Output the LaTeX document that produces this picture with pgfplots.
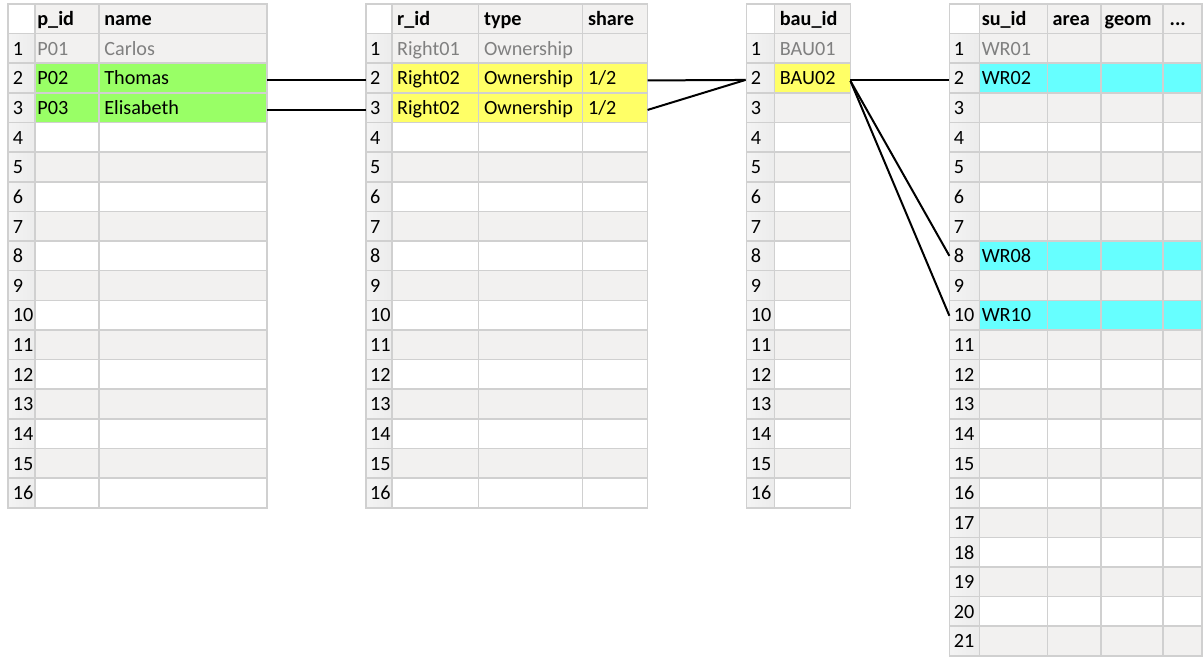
\documentclass[border=0pt]{standalone}
\usepackage{fontspec}
\setmainfont{Carlito}
\usepackage{pgfplots}
\pgfplotsset{compat=1.18}
\definecolor{gridc}{HTML}{D0D0D0}
\definecolor{rowgray}{HTML}{F2F1F0}
\definecolor{idxgray}{HTML}{ECECEC}
\definecolor{hlgreen}{HTML}{99FF66}
\definecolor{hlyellow}{HTML}{FFFF66}
\definecolor{hlcyan}{HTML}{66FFFF}
\definecolor{dimtext}{HTML}{808080}
\newcommand{\RH}{29.65}
\newcommand{\TOP}{4}
% background: left, idxright, right, nrows, oddrows
\newcommand{\tablebg}[5]{%
  \fill[rowgray] (axis cs:#2,\TOP) rectangle (axis cs:#3,{\TOP+\RH});
  \pgfplotsinvokeforeach{#5}{%
    \fill[rowgray] (axis cs:#2,{\TOP+##1*\RH}) rectangle (axis cs:#3,{\TOP+(##1+1)*\RH});
  }
  \shade[left color=idxgray!60, right color=idxgray] (axis cs:#1,{\TOP+\RH}) rectangle (axis cs:#2,{\TOP+(#4+1)*\RH});
}
% grid: left, right, nrows, vlines
\newcommand{\tablegrid}[4]{%
  \pgfplotsinvokeforeach{1,...,#3}{%
    \draw[gridc, line width=0.8pt] (axis cs:#1,{\TOP+##1*\RH}) -- (axis cs:#2,{\TOP+##1*\RH});
  }
  \pgfplotsinvokeforeach{#4}{%
    \draw[gridc, line width=0.8pt] (axis cs:##1,\TOP) -- (axis cs:##1,{\TOP+(#3+1)*\RH});
  }
  \draw[gridc, line width=0.8pt] (axis cs:#1,\TOP) rectangle (axis cs:#2,{\TOP+(#3+1)*\RH});
}
\newcommand{\cell}[3]{\node[anchor=base west, inner sep=0pt] at (axis cs:#1,{\TOP+#2*\RH+21.7}) {#3};}
\newcommand{\hcell}[3]{\node[anchor=base west, inner sep=0pt, font=\fontsize{10.1}{12}\selectfont\bfseries] at (axis cs:#1,{\TOP+#2*\RH+21.7}) {#3};}
\newcommand{\gcell}[3]{\node[anchor=base west, inner sep=0pt, text=dimtext] at (axis cs:#1,{\TOP+#2*\RH+21.7}) {#3};}
\begin{document}
\begin{tikzpicture}[every node/.style={font=\fontsize{10.1}{12}\selectfont}]
\begin{axis}[width=601.5pt, height=328.5pt, scale only axis,
  xmin=0, xmax=1203, ymin=0, ymax=657, y dir=reverse,
  hide axis, clip=false]
\path (axis cs:0,0) rectangle (axis cs:1203,657);
% backgrounds
\tablebg{8}{35}{267}{16}{1,3,...,15}
\tablebg{366}{392}{648}{16}{1,3,...,15}
\tablebg{747}{775}{851}{16}{1,3,...,15}
\tablebg{950}{980}{1203}{21}{1,3,...,21}
% highlights
\fill[hlgreen] (axis cs:35,{\TOP+2*\RH}) rectangle (axis cs:267,{\TOP+4*\RH});
\fill[hlyellow] (axis cs:392,{\TOP+2*\RH}) rectangle (axis cs:648,{\TOP+4*\RH});
\fill[hlyellow] (axis cs:775,{\TOP+2*\RH}) rectangle (axis cs:851,{\TOP+3*\RH});
\fill[hlcyan] (axis cs:980,{\TOP+2*\RH}) rectangle (axis cs:1203,{\TOP+3*\RH});
\fill[hlcyan] (axis cs:980,{\TOP+8*\RH}) rectangle (axis cs:1203,{\TOP+9*\RH});
\fill[hlcyan] (axis cs:980,{\TOP+10*\RH}) rectangle (axis cs:1203,{\TOP+11*\RH});
% grids
\tablegrid{8}{267}{16}{35,99}
\tablegrid{366}{648}{16}{392,479,583}
\tablegrid{747}{851}{16}{775}
\tablegrid{950}{1203}{21}{980,1048,1102,1164}
% index numbers
\pgfplotsinvokeforeach{1,...,16}{\cell{12.5}{#1}{#1}\cell{370}{#1}{#1}\cell{751}{#1}{#1}}
\pgfplotsinvokeforeach{1,...,21}{\cell{954}{#1}{#1}}
% table 1
\hcell{37}{0}{p\_id}\hcell{104}{0}{name}
\gcell{37}{1}{P01}\gcell{104}{1}{Carlos}
\cell{37}{2}{P02}\cell{104}{2}{Thomas}
\cell{37}{3}{P03}\cell{104}{3}{Elisabeth}
% table 2
\hcell{397}{0}{r\_id}\hcell{484}{0}{type}\hcell{588}{0}{share}
\gcell{397}{1}{Right01}\gcell{484}{1}{Ownership}
\cell{397}{2}{Right02}\cell{484}{2}{Ownership}\cell{588}{2}{1/2}
\cell{397}{3}{Right02}\cell{484}{3}{Ownership}\cell{588}{3}{1/2}
% table 3
\hcell{780}{0}{bau\_id}
\gcell{780}{1}{BAU01}
\cell{780}{2}{BAU02}
% table 4
\hcell{982}{0}{su\_id}\hcell{1053}{0}{area}\hcell{1105}{0}{geom}\hcell{1170}{0}{...}
\gcell{982}{1}{WR01}
\cell{982}{2}{WR02}
\cell{982}{8}{WR08}
\cell{982}{10}{WR10}
% connectors
\addplot[black, line width=1pt, no markers] coordinates {(267,80.5) (366,80.5)};
\addplot[black, line width=1pt, no markers] coordinates {(267,110.5) (366,110.5)};
\addplot[black, line width=1pt, no markers] coordinates {(648,80.5) (746,80)};
\addplot[black, line width=1pt, no markers] coordinates {(648,110) (746,80)};
\addplot[black, line width=1pt, no markers] coordinates {(851,80.5) (950,80.5)};
\addplot[black, line width=1pt, no markers] coordinates {(851,81) (950,256)};
\addplot[black, line width=1pt, no markers] coordinates {(851,81) (950,316)};
\end{axis}
\end{tikzpicture}
\end{document}
